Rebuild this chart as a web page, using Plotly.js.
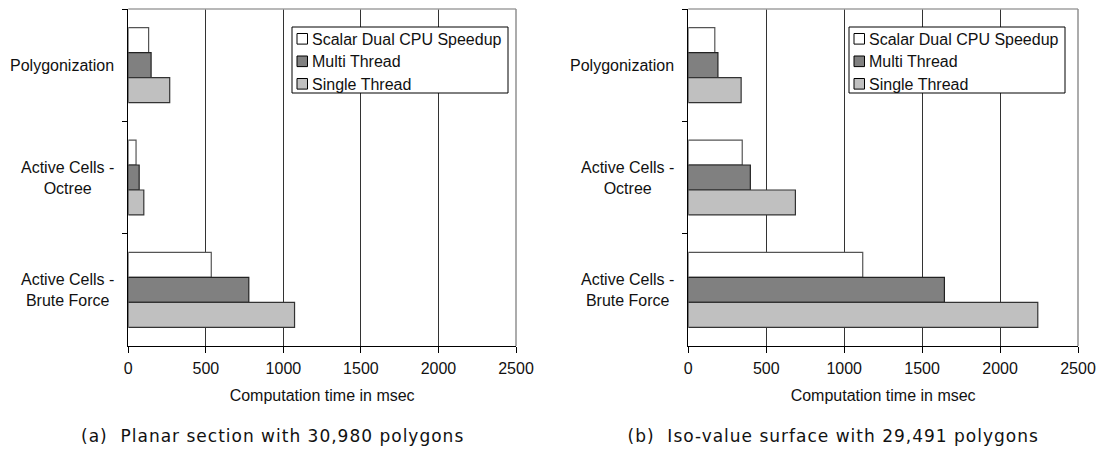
<!DOCTYPE html>
<html>
<head>
<meta charset="utf-8">
<script src="https://cdn.plot.ly/plotly-3.0.1.min.js"></script>
<style>
  html, body { margin: 0; padding: 0; background: #fff; }
  #chart { width: 1104px; height: 450px; }
  .caption-spaced text { letter-spacing: 1px; }
</style>
</head>
<body>
<div id="chart"></div>
<script>
// ---- data ----
const categories = ['Polygonization', 'Active Cells -<br>Octree', 'Active Cells -<br>Brute Force'];
const seriesNames = ['Scalar Dual CPU Speedup', 'Multi Thread', 'Single Thread'];
const planarScalar = [131, 50, 535];
const planarMulti  = [147, 70, 777];
const planarSingle = [267, 100, 1072];
const isoScalar = [170, 346, 1119];
const isoMulti  = [190, 398, 1643];
const isoSingle = [339, 687, 2242];
const xTicks = [0, 500, 1000, 1500, 2000, 2500];
const xTitle = 'Computation time in msec';
const captions = ['(a)\u00a0\u00a0Planar section with 30,980 polygons', '(b)\u00a0\u00a0Iso-value surface with 29,491 polygons'];

// ---- styles ----
const W = 1104, H = 450, MT = 9, MB = 104;
const PH = H - MT - MB;
const px2x = px => px / W;
const px2y = py => (H - MB - py) / PH;

const fills = ['#ffffff', '#808080', '#c0c0c0'];
const lineColors = ['#555555', '#222222', '#333333'];
const baseFont = { family: 'Liberation Sans, Arial, sans-serif', size: 16, color: '#111' };

function makeTraces(vals, xa, ya) {
  return vals.map((v, i) => ({
    type: 'bar', orientation: 'h',
    x: v, y: categories, name: seriesNames[i],
    xaxis: xa, yaxis: ya, showlegend: false,
    marker: { color: fills[i], line: { color: lineColors[i], width: 1.2 } },
    hoverinfo: 'x+name'
  }));
}

const data = [
  ...makeTraces([planarScalar, planarMulti, planarSingle], 'x', 'y'),
  ...makeTraces([isoScalar, isoMulti, isoSingle], 'x2', 'y2')
];

function xaxisDef(domain, anchor) {
  return {
    domain: domain, anchor: anchor, range: [0, 2500], tickvals: xTicks,
    ticks: 'outside', ticklen: 6, tickcolor: '#000', tickwidth: 1,
    ticklabelstandoff: 2,
    showline: true, linecolor: '#000', linewidth: 1,
    showgrid: true, gridcolor: '#333', gridwidth: 1, zeroline: false,
    tickfont: baseFont, fixedrange: true,
    title: { text: xTitle, font: baseFont, standoff: 13 }
  };
}
function yaxisDef(anchor) {
  return {
    anchor: anchor, type: 'category', categoryorder: 'array', categoryarray: categories,
    autorange: 'reversed', showticklabels: false,
    ticks: 'outside', tickson: 'boundaries', ticklen: 5, tickcolor: '#000',
    showline: true, linecolor: '#000', linewidth: 1, showgrid: false, zeroline: false,
    fixedrange: true
  };
}

const annotations = [];
const shapes = [];

// category labels
[['x', 'y'], ['x2', 'y2']].forEach(([xa, ya]) => {
  categories.forEach(c => {
    annotations.push({
      xref: xa + ' domain', yref: ya, x: 0, y: c, xshift: -13,
      xanchor: 'right', yanchor: 'middle', align: 'center',
      text: c, showarrow: false, font: baseFont, borderpad: 0
    });
  });
});

// captions
const capX = [272, 833];
captions.forEach((t, i) => {
  annotations.push({
    xref: 'paper', yref: 'paper', x: px2x(capX[i]), y: px2y(436),
    xanchor: 'center', yanchor: 'middle', text: t, showarrow: false,
    font: { family: 'DejaVu Sans, sans-serif', size: 17, color: '#111' }, borderpad: 0,
    captionMarker: true
  });
});

// plot frame (top/right, gray)
['x', 'x2'].forEach((xa, i) => {
  const ya = i === 0 ? 'y' : 'y2';
  shapes.push({ type: 'line', xref: xa + ' domain', yref: ya + ' domain', x0: 0, x1: 1, y0: 1, y1: 1, line: { color: '#a0a0a0', width: 1.5 } });
  shapes.push({ type: 'line', xref: xa + ' domain', yref: ya + ' domain', x0: 1, x1: 1, y0: 0, y1: 1, line: { color: '#909090', width: 1.5 } });
});

// legends (one per panel)
const legendBoxes = [{ l: 292, r: 508 }, { l: 849, r: 1065 }];
const legTop = 27, legBottom = 93, rowCenters = [38.8, 61.3, 83.8];
legendBoxes.forEach(b => {
  shapes.push({ type: 'rect', xref: 'paper', yref: 'paper',
    x0: px2x(b.l), x1: px2x(b.r), y0: px2y(legBottom), y1: px2y(legTop),
    fillcolor: '#fff', line: { color: '#000', width: 1 } });
  seriesNames.forEach((n, i) => {
    const cy = rowCenters[i];
    shapes.push({ type: 'rect', xref: 'paper', yref: 'paper',
      x0: px2x(b.l + 5), x1: px2x(b.l + 15.5), y0: px2y(cy + 5.3), y1: px2y(cy - 5.3),
      fillcolor: fills[i], line: { color: '#000', width: 1 } });
    annotations.push({ xref: 'paper', yref: 'paper', x: px2x(b.l + 18.5), y: px2y(cy + 0.5),
      xanchor: 'left', yanchor: 'middle', text: n, showarrow: false, font: baseFont, borderpad: 0 });
  });
});

const layout = {
  width: W, height: H,
  margin: { l: 0, r: 0, t: MT, b: MB },
  paper_bgcolor: '#fff', plot_bgcolor: '#fff',
  font: baseFont,
  barmode: 'group', bargap: 0.333, bargroupgap: 0,
  showlegend: false,
  xaxis: xaxisDef([px2x(128.3), px2x(516)], 'y'),
  yaxis: yaxisDef('x'),
  xaxis2: xaxisDef([px2x(688.3), px2x(1078)], 'y2'),
  yaxis2: yaxisDef('x2'),
  annotations: annotations.map(a => { const c = Object.assign({}, a); delete c.captionMarker; return c; }),
  shapes: shapes
};

const capIdx = annotations.map((a, i) => a.captionMarker ? i : -1).filter(i => i >= 0);
const style = document.createElement('style');
style.textContent = capIdx.map(i => `.annotation[data-index="${i}"] text`).join(', ') + ' { letter-spacing: 1px; }';
document.head.appendChild(style);

Plotly.newPlot('chart', data, layout, { displayModeBar: false });
</script>
</body>
</html>
